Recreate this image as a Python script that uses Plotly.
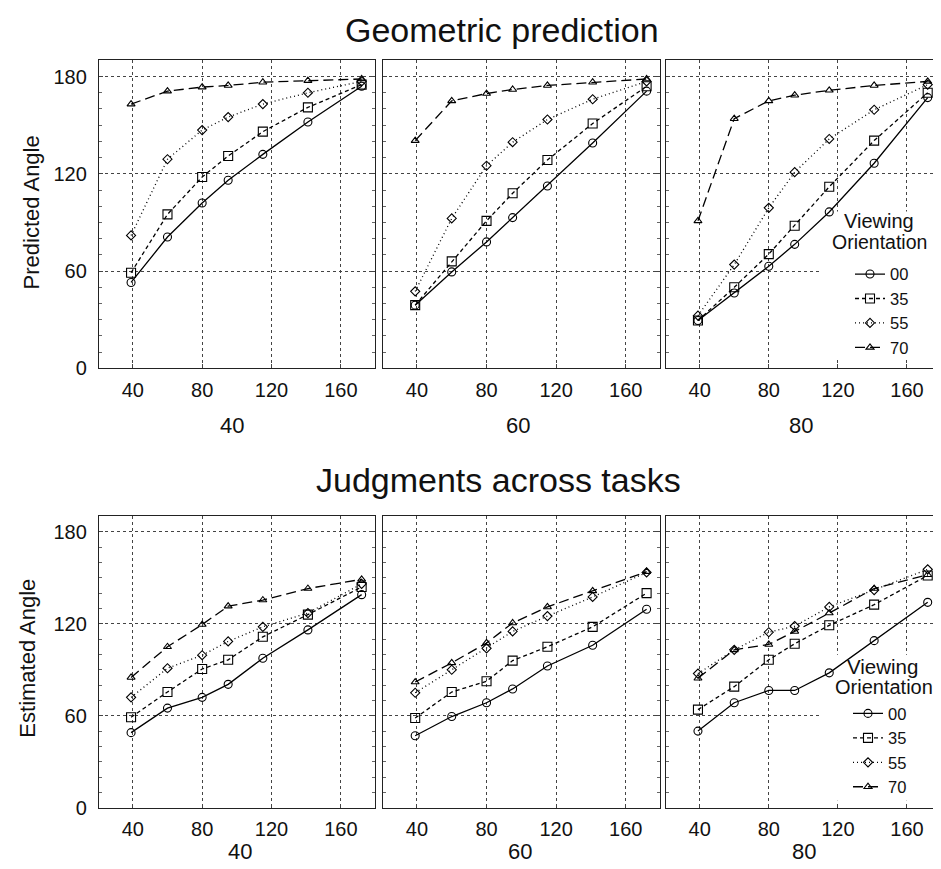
import plotly.graph_objects as go

# ---------------- data ----------------
x_vals = [39, 60, 80, 95, 115, 141, 172]
orientations = ["00", "35", "55", "70"]
panel_labels = ["40", "60", "80"]
x_ticks = [40, 80, 120, 160]
y_ticks = [0, 60, 120, 180]

# Geometric prediction (top row)
geo_40 = {
    "00": [53, 81, 102, 116, 132, 152, 174],
    "35": [59, 95, 118, 131, 146, 161, 175],
    "55": [82, 129, 147, 155, 163, 170, 177],
    "70": [163, 171, 173.5, 174.5, 176.5, 177.5, 178.5],
}
geo_60 = {
    "00": [39, 59.5, 78, 93, 112.5, 139, 171],
    "35": [39, 66, 91, 108, 128.5, 151, 174],
    "55": [47.5, 92.5, 125, 139.5, 153.5, 166, 177],
    "70": [140.5, 165, 169.5, 172, 174.5, 176.5, 178.5],
}
geo_80 = {
    "00": [29.5, 46.5, 63, 76.5, 96.5, 126.5, 167],
    "35": [29.5, 50, 70.5, 88, 112, 140.5, 170],
    "55": [32.5, 64, 99, 121, 141.5, 159.5, 175],
    "70": [91, 154, 165, 168.5, 171.5, 174.5, 177],
}
# Judgments across tasks (bottom row)
jud_40 = {
    "00": [49, 65, 72, 80.5, 97.5, 116, 139],
    "35": [59, 75.5, 90.5, 96.5, 111.5, 126, 144],
    "55": [72, 91, 99.5, 108.5, 118, 127, 146],
    "70": [85, 105, 119.5, 131.5, 135.5, 143, 149],
}
jud_60 = {
    "00": [47, 59.5, 68.5, 77.5, 92.5, 106, 129.5],
    "35": [58.5, 75.5, 82.5, 96, 105, 118, 140],
    "55": [75, 90, 104, 115, 125, 137.5, 153.5],
    "70": [82, 94.5, 107.5, 120.5, 131, 141.5, 154],
}
jud_80 = {
    "00": [50, 68.5, 76.5, 76.5, 88, 109, 134],
    "35": [64, 79, 96.5, 107, 119, 132.5, 151.5],
    "55": [87.5, 103, 114.5, 118.5, 131, 142, 155.5],
    "70": [84.5, 103, 106.5, 115, 127, 143, 152],
}

# ---------------- styling ----------------
W, H = 941, 869
FONT = "Liberation Sans, Arial, Helvetica, sans-serif"
styles = {
    "00": dict(dash="solid", symbol="circle-open", size=8, width=1.3),
    "35": dict(dash="4px,3px", symbol="square-open", size=9, width=1.3),
    "55": dict(dash="1px,3px", symbol="diamond-open", size=7, width=1.3),
    "70": dict(dash="10px,5px", symbol="triangle-up-open", size=7, width=1.3),
}

col_px = [(91, 367), (375, 652), (658, 933)]
row_px = [(53, 365), (515, 810)]
X_RANGE = [20.5, 179.7]
Y_RANGE = [0, 190]


def px_x(v):
    return v / W


def px_y(v):
    return 1 - v / H


fig = go.Figure()
rows = [[geo_40, geo_60, geo_80], [jud_40, jud_60, jud_80]]

for r, row in enumerate(rows):
    for c, data in enumerate(row):
        idx = r * 3 + c + 1
        xa = "x" if idx == 1 else f"x{idx}"
        ya = "y" if idx == 1 else f"y{idx}"
        for o in orientations:
            st = styles[o]
            show = c == 2
            fig.add_trace(go.Scatter(
                x=x_vals, y=data[o], mode="lines+markers", name=o,
                xaxis=xa, yaxis=ya,
                line=dict(color="black", width=st["width"], dash=st["dash"]),
                marker=dict(symbol=st["symbol"], size=st["size"], color="black",
                            line=dict(color="black", width=1.1)),
                showlegend=show,
                legend="legend" if r == 0 else "legend2",
                hoverinfo="skip",
            ))
        xd = [px_x(col_px[c][0]), px_x(col_px[c][1])]
        yd = [px_y(row_px[r][1]), px_y(row_px[r][0])]
        xkey = "xaxis" if idx == 1 else f"xaxis{idx}"
        ykey = "yaxis" if idx == 1 else f"yaxis{idx}"
        fig.update_layout({
            xkey: dict(domain=xd, anchor=ya, range=X_RANGE,
                       tickvals=x_ticks, ticktext=[str(t) for t in x_ticks],
                       showgrid=True, gridcolor="#444", griddash="dot", gridwidth=1,
                       zeroline=False, showline=True, linecolor="#222", linewidth=1.3,
                       mirror=True, ticks="inside", ticklen=4, tickcolor="#444",
                       ticklabelstandoff=3,
                       tickfont=dict(family=FONT, size=20, color="#111")),
            ykey: dict(domain=yd, anchor=xa, range=Y_RANGE,
                       tickvals=y_ticks, ticktext=[str(t) for t in y_ticks],
                       showticklabels=(c == 0),
                       showgrid=True, gridcolor="#444", griddash="dot", gridwidth=1,
                       zeroline=False, showline=True, linecolor="#222", linewidth=1.3,
                       mirror="allticks", ticks="inside", ticklen=4, tickcolor="#444",
                       ticklabelstandoff=7,
                       minor=dict(dtick=10, ticks="inside", ticklen=3, tickcolor="#666",
                                  showgrid=False),
                       tickfont=dict(family=FONT, size=20, color="#111")),
        })


def to_data(px, lo, hi, rng, invert=False):
    frac = (px - lo) / (hi - lo)
    if invert:
        frac = 1 - frac
    return rng[0] + frac * (rng[1] - rng[0])


# white boxes behind legends (above grid, below data)
for (xref, yref, cpx, rpx, bx0, bx1, by0, by1) in [
        ("x3", "y3", col_px[2], row_px[0], 812, 931, 206, 356),
        ("x6", "y6", col_px[2], row_px[1], 812, 931, 655, 803)]:
    fig.add_shape(type="rect", xref=xref, yref=yref,
                  x0=to_data(bx0, cpx[0], cpx[1], X_RANGE),
                  x1=to_data(bx1, cpx[0], cpx[1], X_RANGE),
                  y0=to_data(by1, rpx[0], rpx[1], Y_RANGE, invert=True),
                  y1=to_data(by0, rpx[0], rpx[1], Y_RANGE, invert=True),
                  layer="between", fillcolor="white", line=dict(width=0))

annotations = []


def add_text(text, x, y, size, angle=0):
    annotations.append(dict(text=text, x=px_x(x), y=px_y(y), xref="paper", yref="paper",
                            xanchor="center", yanchor="middle", showarrow=False,
                            textangle=angle,
                            font=dict(family=FONT, size=size, color="#111")))


# titles
add_text("Geometric prediction", 494, 22, 34)
add_text("Judgments across tasks", 490, 478, 34)
# y titles
add_text("Predicted Angle", 23, 207, 22, -90)
add_text("Estimated Angle", 20, 659, 22, -90)
# panel category labels
top_lab_x = [224, 510, 793]
bot_lab_x = [232, 512, 796]
for i, lab in enumerate(panel_labels):
    add_text(lab, top_lab_x[i], 423, 22)
    add_text(lab, bot_lab_x[i], 854, 22)
# legend titles
add_text("Viewing", 871, 216, 20)
add_text("Orientation", 871, 237, 19.5)
add_text("Viewing", 874, 667, 20.5)
add_text("Orientation", 876, 688, 20)

legend_common = dict(xanchor="left", yanchor="top", bgcolor="rgba(0,0,0,0)",
                     borderwidth=0, font=dict(family=FONT, size=16.5, color="#111"),
                     tracegroupgap=0, itemclick=False, itemdoubleclick=False)

fig.update_layout(
    width=W, height=H, autosize=False,
    margin=dict(l=0, r=0, t=0, b=0),
    paper_bgcolor="white", plot_bgcolor="white",
    annotations=annotations,
    legend=dict(x=px_x(842), y=px_y(252), **legend_common),
    legend2=dict(x=px_x(840), y=px_y(697), **legend_common),
    showlegend=True,
)

fig.write_html("out.html")
